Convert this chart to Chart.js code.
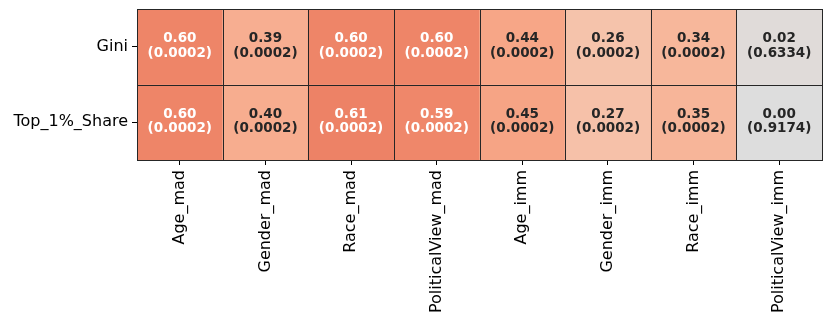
<!DOCTYPE html>
<html>
<head>
<meta charset="utf-8">
<script src="https://cdn.jsdelivr.net/npm/chart.js@4.4.1/dist/chart.umd.min.js"></script>
<style>
  html, body { margin: 0; padding: 0; background: #fff; }
  #wrap { width: 830px; height: 326px; }
</style>
</head>
<body>
<div id="wrap"><canvas id="heat"></canvas></div>
<script>
// Data
const rowLabels = ['Gini', 'Top_1%_Share'];
const colLabels = ['Age_mad', 'Gender_mad', 'Race_mad', 'PoliticalView_mad',
  'Age_imm', 'Gender_imm', 'Race_imm', 'PoliticalView_imm'];
const giniCoef = [0.60, 0.39, 0.60, 0.60, 0.44, 0.26, 0.34, 0.02];
const giniP = [0.0002, 0.0002, 0.0002, 0.0002, 0.0002, 0.0002, 0.0002, 0.6334];
const topCoef = [0.60, 0.40, 0.61, 0.59, 0.45, 0.27, 0.35, 0.00];
const topP = [0.0002, 0.0002, 0.0002, 0.0002, 0.0002, 0.0002, 0.0002, 0.9174];

const coefRows = [giniCoef, topCoef];
const pRows = [giniP, topP];

// coolwarm colormap (Moreland), range -1..1
const coolwarm = [
  [59,76,192],[68,90,204],[77,104,215],[87,117,225],[98,130,234],[108,142,241],
  [119,154,247],[130,165,251],[141,176,254],[152,185,255],[163,194,255],[174,201,253],
  [184,208,249],[194,213,244],[204,217,238],[213,219,230],[221,221,221],[229,216,209],
  [236,211,197],[241,204,185],[245,196,173],[247,187,160],[247,177,148],[247,166,135],
  [244,154,123],[241,141,111],[236,127,99],[229,112,88],[222,96,77],[213,80,66],
  [203,62,56],[192,40,47],[180,4,38]
];
function colorFor(v) {
  const t = Math.min(1, Math.max(0, (v + 1) / 2)) * 32;
  const i = Math.min(31, Math.floor(t));
  const f = t - i;
  const a = coolwarm[i], b = coolwarm[i + 1];
  const c = a.map((x, k) => Math.round(x + (b[k] - x) * f));
  return `rgb(${c[0]},${c[1]},${c[2]})`;
}

// Cell text + cell borders
const cellPlugin = {
  id: 'cellText',
  afterDatasetsDraw(chart) {
    const ctx = chart.ctx;
    ctx.save();
    chart.data.datasets.forEach((ds, r) => {
      const meta = chart.getDatasetMeta(r);
      meta.data.forEach((el, c) => {
        const left = Math.round(el.x - el.width / 2);
        const right = Math.round(el.x + el.width / 2);
        const top = Math.round(Math.min(el.y, el.base));
        const bottom = Math.round(Math.max(el.y, el.base));
        ctx.strokeStyle = '#262626';
        ctx.lineWidth = 1;
        ctx.strokeRect(left + 0.5, top + 0.5, right - left, bottom - top);

        const v = coefRows[r][c];
        const cy = (el.y + el.base) / 2;
        ctx.fillStyle = v >= 0.5 ? '#ffffff' : '#262626';
        ctx.font = 'bold 13.5px "DejaVu Sans"';
        ctx.textAlign = 'center';
        ctx.textBaseline = 'middle';
        ctx.fillText(v.toFixed(2), el.x, cy - 8);
        ctx.fillText('(' + pRows[r][c].toFixed(4) + ')', el.x, cy + 6.5);
      });
    });
    ctx.restore();
  }
};

const datasets = rowLabels.map((name, r) => ({
  label: name,
  data: colLabels.map(() => [r, r + 1]),
  backgroundColor: coefRows[r].map(colorFor),
  borderWidth: 0,
  grouped: false,
  barPercentage: 1,
  categoryPercentage: 1
}));

new Chart(document.getElementById('heat'), {
  type: 'bar',
  data: { labels: colLabels, datasets },
  options: {
    responsive: true,
    maintainAspectRatio: false,
    animation: false,
    layout: { padding: { top: 9, right: 8, left: 0, bottom: 0 } },
    plugins: { legend: { display: false }, tooltip: { enabled: false } },
    scales: {
      x: {
        type: 'category',
        offset: true,
        grid: { offset: false, drawOnChartArea: false, drawTicks: true, tickLength: 5, color: '#000' },
        border: { display: false },
        ticks: {
          minRotation: 90, maxRotation: 90, autoSkip: false, padding: 5,
          color: '#000', font: { family: 'DejaVu Sans', size: 16 }
        },
        afterFit(scale) {
          scale.height = 166;
          scale.paddingLeft = 0;
          scale.paddingRight = 0;
        }
      },
      y: {
        type: 'linear',
        min: 0, max: 2,
        reverse: true,
        afterBuildTicks(scale) { scale.ticks = [{ value: 0.5 }, { value: 1.5 }]; },
        grid: { drawOnChartArea: false, drawTicks: true, tickLength: 5, color: '#000' },
        border: { display: false },
        ticks: {
          padding: 4, color: '#000', font: { family: 'DejaVu Sans', size: 16 },
          callback: (v) => rowLabels[Math.floor(v)]
        },
        afterFit(scale) {
          scale.width = 137;
          scale.paddingTop = 0;
          scale.paddingBottom = 0;
        }
      }
    }
  },
  plugins: [cellPlugin]
});
</script>
</body>
</html>
